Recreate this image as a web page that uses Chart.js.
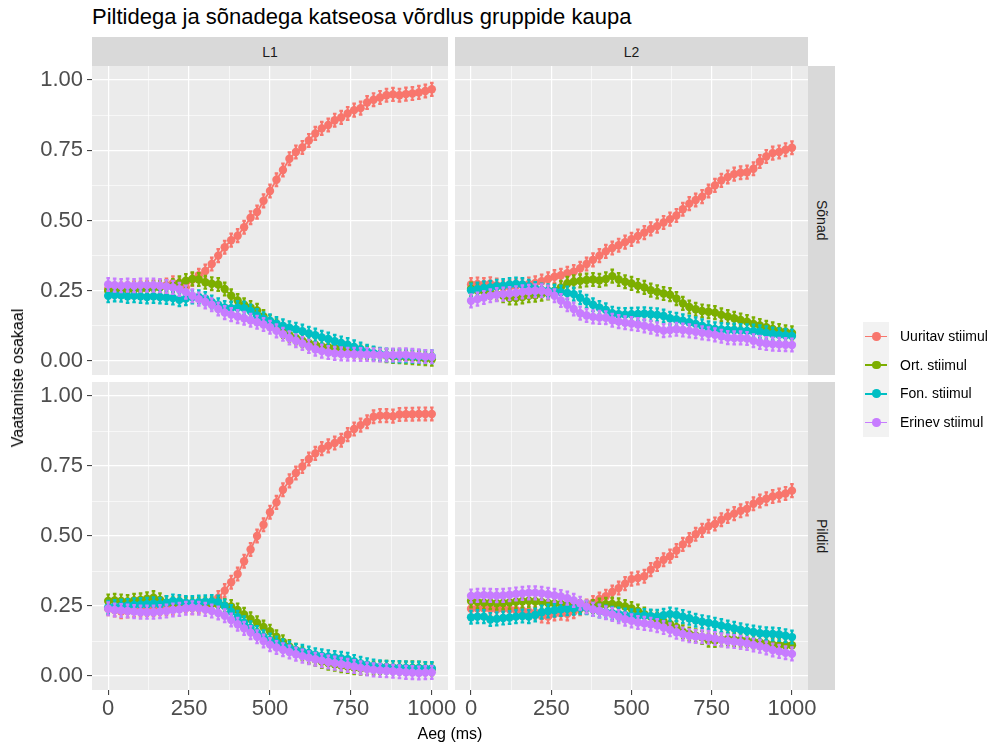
<!DOCTYPE html>
<html>
<head>
<meta charset="utf-8">
<script src="https://cdn.jsdelivr.net/npm/chart.js@4.4.1/dist/chart.umd.min.js"></script>
<style>
body { margin: 0; background: #fff; font-family: "Liberation Sans", Arial, sans-serif; }
#wrap { position: relative; width: 995px; height: 746px; overflow: hidden; }
#wrap canvas { position: absolute; left: 0; top: 0; }
.title { position: absolute; left: 92px; top: 6px; font-size: 22px; line-height: 22px; color: #000; white-space: nowrap; }
.strip { position: absolute; background: #D9D9D9; color: #1A1A1A; font-size: 14px;
  display: flex; align-items: center; justify-content: center; }
.strip.side span { writing-mode: vertical-rl; }
.ytitle { position: absolute; left: 18px; top: 378px; font-size: 16px; color: #000; white-space: nowrap;
  transform: translate(-50%, -50%) rotate(-90deg); }
.xtitle { position: absolute; left: 450px; top: 734px; font-size: 16px; color: #000; white-space: nowrap;
  transform: translate(-50%, -50%); }
.legend { position: absolute; left: 863px; top: 322px; }
.legend .row { position: relative; height: 28.7px; }
.legend .key { position: absolute; left: 0; top: 0; width: 26px; height: 28.7px; background: #F2F2F2; }
.legend .key i { position: absolute; left: 2px; right: 2px; top: 13.5px; height: 1.8px; }
.legend .key b { position: absolute; left: 9px; top: 10px; width: 8.5px; height: 8.5px; border-radius: 50%; }
.legend .lab { position: absolute; left: 37px; top: 0; line-height: 28.7px; font-size: 14px; color: #000; white-space: nowrap; }
</style>
</head>
<body>
<div id="wrap">
  <div class="title">Piltidega ja sõnadega katseosa võrdlus gruppide kaupa</div>
  <div class="strip" style="left:92px;top:37px;width:356px;height:29px">L1</div>
  <div class="strip" style="left:455px;top:37px;width:353px;height:29px">L2</div>
  <div class="strip side" style="left:808px;top:66px;width:27px;height:309px"><span>Sõnad</span></div>
  <div class="strip side" style="left:808px;top:382px;width:27px;height:308px"><span>Pildid</span></div>
  <canvas id="c1" width="995" height="746"></canvas>
  <canvas id="c2" width="995" height="746"></canvas>
  <canvas id="c3" width="995" height="746"></canvas>
  <canvas id="c4" width="995" height="746"></canvas>
  <div class="ytitle">Vaatamiste osakaal</div>
  <div class="xtitle">Aeg (ms)</div>
  <div class="legend" id="legend"></div>
</div>
<script>
const times = [0, 20, 40, 60, 80, 100, 120, 140, 160, 180, 200, 220, 240, 260, 280, 300, 320, 340, 360, 380,
  400, 420, 440, 460, 480, 500, 520, 540, 560, 580, 600, 620, 640, 660, 680, 700, 720, 740, 760, 780,
  800, 820, 840, 860, 880, 900, 920, 940, 960, 980, 1000];

const seriesNames = ['Uuritav stiimul', 'Ort. stiimul', 'Fon. stiimul', 'Erinev stiimul'];
const seriesColors = ['#F8766D', '#7CAE00', '#00BFC4', '#C77CFF'];

const xMajor = [0, 250, 500, 750, 1000];
const xMinor = [125, 375, 625, 875];
const yMajor = [0, 0.25, 0.5, 0.75, 1];
const yMinor = [0.125, 0.375, 0.625, 0.875];

// poolne veapiir (ligikaudu)
const se = 0.023;

// L1, Sõnad
const l1SonadUuritav = [0.256, 0.255, 0.256, 0.258, 0.26, 0.26, 0.262, 0.264, 0.266, 0.27, 0.278, 0.27, 0.262, 0.29, 0.305, 0.32, 0.345, 0.375, 0.405, 0.43, 0.446, 0.476, 0.51, 0.53, 0.57, 0.605, 0.645, 0.68, 0.72, 0.744, 0.76, 0.785, 0.81, 0.828, 0.84, 0.857, 0.867, 0.881, 0.893, 0.9, 0.92, 0.93, 0.938, 0.946, 0.949, 0.946, 0.95, 0.952, 0.956, 0.961, 0.967];
const l1SonadOrt = [0.25, 0.25, 0.252, 0.254, 0.255, 0.256, 0.258, 0.26, 0.262, 0.265, 0.268, 0.278, 0.286, 0.292, 0.29, 0.28, 0.275, 0.272, 0.256, 0.232, 0.215, 0.2, 0.19, 0.18, 0.158, 0.14, 0.125, 0.105, 0.092, 0.082, 0.072, 0.064, 0.058, 0.052, 0.049, 0.046, 0.044, 0.042, 0.036, 0.032, 0.029, 0.026, 0.022, 0.019, 0.016, 0.015, 0.013, 0.012, 0.01, 0.008, 0.006];
const l1SonadFon = [0.232, 0.235, 0.234, 0.23, 0.232, 0.23, 0.228, 0.23, 0.228, 0.226, 0.224, 0.218, 0.222, 0.228, 0.228, 0.222, 0.21, 0.2, 0.19, 0.188, 0.19, 0.188, 0.178, 0.162, 0.15, 0.143, 0.133, 0.125, 0.118, 0.113, 0.106, 0.098, 0.092, 0.084, 0.078, 0.07, 0.064, 0.058, 0.05, 0.042, 0.034, 0.028, 0.024, 0.021, 0.019, 0.018, 0.018, 0.017, 0.016, 0.015, 0.015];
const l1SonadErinev = [0.272, 0.27, 0.268, 0.27, 0.268, 0.27, 0.27, 0.27, 0.268, 0.265, 0.262, 0.255, 0.245, 0.232, 0.22, 0.21, 0.2, 0.185, 0.172, 0.165, 0.158, 0.152, 0.145, 0.138, 0.13, 0.12, 0.107, 0.095, 0.082, 0.072, 0.062, 0.052, 0.042, 0.035, 0.03, 0.027, 0.025, 0.024, 0.024, 0.023, 0.023, 0.022, 0.021, 0.021, 0.021, 0.022, 0.022, 0.02, 0.018, 0.016, 0.015];

// L2, Sõnad
const l2SonadUuritav = [0.272, 0.274, 0.272, 0.275, 0.27, 0.262, 0.265, 0.268, 0.27, 0.274, 0.278, 0.284, 0.292, 0.3, 0.305, 0.312, 0.318, 0.33, 0.345, 0.36, 0.375, 0.39, 0.402, 0.412, 0.423, 0.433, 0.445, 0.457, 0.47, 0.48, 0.493, 0.505, 0.518, 0.54, 0.56, 0.573, 0.585, 0.605, 0.625, 0.643, 0.655, 0.665, 0.67, 0.672, 0.684, 0.71, 0.728, 0.74, 0.744, 0.752, 0.759];
const l2SonadOrt = [0.256, 0.252, 0.248, 0.244, 0.238, 0.232, 0.224, 0.224, 0.228, 0.232, 0.234, 0.238, 0.242, 0.25, 0.262, 0.276, 0.282, 0.285, 0.288, 0.29, 0.287, 0.292, 0.302, 0.29, 0.282, 0.276, 0.268, 0.262, 0.252, 0.246, 0.24, 0.236, 0.222, 0.205, 0.192, 0.184, 0.178, 0.175, 0.172, 0.164, 0.158, 0.152, 0.146, 0.14, 0.132, 0.126, 0.12, 0.114, 0.108, 0.104, 0.1];
const l2SonadFon = [0.252, 0.256, 0.26, 0.262, 0.266, 0.268, 0.272, 0.274, 0.272, 0.266, 0.258, 0.252, 0.25, 0.248, 0.245, 0.242, 0.238, 0.225, 0.212, 0.2, 0.19, 0.182, 0.17, 0.166, 0.165, 0.166, 0.167, 0.168, 0.166, 0.164, 0.16, 0.152, 0.148, 0.143, 0.138, 0.132, 0.125, 0.118, 0.114, 0.112, 0.11, 0.11, 0.108, 0.107, 0.106, 0.104, 0.1, 0.096, 0.093, 0.091, 0.089];
const l2SonadErinev = [0.214, 0.22, 0.226, 0.232, 0.236, 0.238, 0.24, 0.243, 0.246, 0.248, 0.25, 0.25, 0.245, 0.232, 0.215, 0.2, 0.185, 0.17, 0.162, 0.157, 0.155, 0.154, 0.145, 0.14, 0.136, 0.133, 0.13, 0.125, 0.12, 0.114, 0.108, 0.11, 0.113, 0.11, 0.107, 0.104, 0.1, 0.097, 0.093, 0.088, 0.083, 0.082, 0.082, 0.08, 0.072, 0.066, 0.062, 0.06, 0.059, 0.058, 0.057];

// L1, Pildid
const l1PildidUuritav = [0.24, 0.236, 0.23, 0.232, 0.234, 0.236, 0.238, 0.238, 0.24, 0.24, 0.242, 0.262, 0.25, 0.244, 0.248, 0.25, 0.258, 0.28, 0.305, 0.335, 0.364, 0.41, 0.452, 0.5, 0.54, 0.585, 0.62, 0.665, 0.697, 0.725, 0.748, 0.775, 0.795, 0.812, 0.822, 0.832, 0.842, 0.862, 0.882, 0.896, 0.908, 0.926, 0.93, 0.93, 0.928, 0.934, 0.935, 0.935, 0.936, 0.936, 0.936];
const l1PildidOrt = [0.268, 0.27, 0.268, 0.266, 0.27, 0.272, 0.276, 0.28, 0.272, 0.262, 0.258, 0.256, 0.258, 0.256, 0.258, 0.258, 0.258, 0.256, 0.252, 0.248, 0.236, 0.22, 0.204, 0.19, 0.175, 0.16, 0.14, 0.122, 0.105, 0.092, 0.08, 0.068, 0.06, 0.052, 0.046, 0.042, 0.037, 0.034, 0.03, 0.028, 0.027, 0.028, 0.03, 0.031, 0.03, 0.029, 0.028, 0.029, 0.028, 0.026, 0.025];
const l1PildidFon = [0.245, 0.248, 0.25, 0.252, 0.254, 0.255, 0.256, 0.258, 0.256, 0.262, 0.268, 0.266, 0.262, 0.262, 0.264, 0.265, 0.266, 0.264, 0.25, 0.23, 0.21, 0.19, 0.172, 0.155, 0.14, 0.128, 0.118, 0.108, 0.1, 0.092, 0.088, 0.082, 0.076, 0.072, 0.069, 0.066, 0.063, 0.06, 0.052, 0.045, 0.04, 0.036, 0.033, 0.031, 0.03, 0.03, 0.029, 0.028, 0.028, 0.027, 0.027];
const l1PildidErinev = [0.24, 0.236, 0.234, 0.232, 0.23, 0.228, 0.228, 0.228, 0.23, 0.232, 0.236, 0.238, 0.242, 0.244, 0.242, 0.238, 0.232, 0.225, 0.215, 0.2, 0.185, 0.17, 0.155, 0.14, 0.125, 0.112, 0.102, 0.094, 0.086, 0.078, 0.071, 0.065, 0.06, 0.055, 0.05, 0.046, 0.042, 0.038, 0.034, 0.029, 0.025, 0.022, 0.02, 0.019, 0.017, 0.015, 0.013, 0.012, 0.011, 0.012, 0.013];

// L2, Pildid
const l2PildidUuritav = [0.24, 0.242, 0.242, 0.24, 0.238, 0.24, 0.238, 0.236, 0.233, 0.23, 0.226, 0.214, 0.212, 0.222, 0.224, 0.222, 0.23, 0.24, 0.25, 0.262, 0.275, 0.285, 0.3, 0.314, 0.33, 0.346, 0.35, 0.356, 0.38, 0.398, 0.415, 0.428, 0.448, 0.47, 0.487, 0.506, 0.52, 0.535, 0.543, 0.558, 0.57, 0.58, 0.59, 0.597, 0.615, 0.625, 0.633, 0.641, 0.646, 0.652, 0.662];
const l2PildidOrt = [0.268, 0.265, 0.262, 0.262, 0.26, 0.261, 0.263, 0.265, 0.267, 0.269, 0.267, 0.264, 0.261, 0.259, 0.257, 0.255, 0.252, 0.248, 0.245, 0.248, 0.253, 0.256, 0.257, 0.254, 0.248, 0.241, 0.232, 0.221, 0.212, 0.203, 0.195, 0.186, 0.174, 0.158, 0.15, 0.144, 0.138, 0.128, 0.127, 0.13, 0.132, 0.13, 0.128, 0.126, 0.122, 0.12, 0.116, 0.112, 0.11, 0.11, 0.11];
const l2PildidFon = [0.21, 0.212, 0.212, 0.202, 0.204, 0.207, 0.209, 0.212, 0.214, 0.212, 0.218, 0.228, 0.232, 0.235, 0.238, 0.24, 0.242, 0.244, 0.244, 0.238, 0.232, 0.228, 0.224, 0.221, 0.218, 0.215, 0.214, 0.216, 0.214, 0.213, 0.217, 0.221, 0.218, 0.212, 0.206, 0.199, 0.194, 0.19, 0.185, 0.18, 0.175, 0.17, 0.165, 0.161, 0.157, 0.153, 0.151, 0.15, 0.148, 0.144, 0.139];
const l2PildidErinev = [0.286, 0.288, 0.289, 0.288, 0.287, 0.288, 0.29, 0.293, 0.295, 0.297, 0.297, 0.295, 0.292, 0.288, 0.284, 0.278, 0.27, 0.26, 0.247, 0.238, 0.232, 0.226, 0.22, 0.212, 0.203, 0.197, 0.191, 0.188, 0.185, 0.18, 0.173, 0.165, 0.156, 0.15, 0.144, 0.141, 0.14, 0.138, 0.134, 0.129, 0.125, 0.123, 0.12, 0.116, 0.111, 0.106, 0.1, 0.093, 0.088, 0.083, 0.079];

// paneeli hall taust
const panelBg = {
  id: 'panelBg',
  beforeDraw(chart) {
    const a = chart.chartArea;
    chart.ctx.save();
    chart.ctx.fillStyle = '#EBEBEB';
    chart.ctx.fillRect(a.left, a.top, a.right - a.left, a.bottom - a.top);
    chart.ctx.restore();
  }
};

// veapiirid iga punkti juures
const errorBars = {
  id: 'errorBars',
  afterDatasetDraw(chart, args) {
    const ds = chart.data.datasets[args.index];
    const ys = chart.scales.y;
    const c = chart.ctx;
    c.save();
    c.strokeStyle = ds.borderColor;
    c.lineWidth = 2.2;
    args.meta.data.forEach((pt, i) => {
      const v = ds.data[i].y;
      const top = ys.getPixelForValue(v + se);
      const bot = ys.getPixelForValue(v - se);
      c.beginPath();
      c.moveTo(pt.x, top); c.lineTo(pt.x, bot);
      c.moveTo(pt.x - 1.8, top); c.lineTo(pt.x + 1.8, top);
      c.moveTo(pt.x - 1.8, bot); c.lineTo(pt.x + 1.8, bot);
      c.stroke();
    });
    c.restore();
  }
};

// size = telje laius/kõrgus pikslites (0 kui telge ei näidata)
function axisOpts(major, minor, min, max, size, fmt, isX) {
  const show = size > 0;
  return {
    type: 'linear',
    position: isX ? 'bottom' : 'left',
    min: min,
    max: max,
    afterBuildTicks: s => { s.ticks = major.concat(minor).sort((a, b) => a - b).map(v => ({ value: v })); },
    afterFit: s => { if (isX) s.height = size; else s.width = size; },
    border: { display: false },
    grid: {
      color: '#FFFFFF',
      lineWidth: ctx => major.includes(ctx.tick.value) ? 1.2 : 0.6,
      drawTicks: show,
      tickLength: 5,
      tickWidth: 1,
      tickColor: ctx => major.includes(ctx.tick.value) ? '#333333' : 'rgba(0,0,0,0)'
    },
    ticks: {
      display: show,
      autoSkip: false,
      maxRotation: 0,
      padding: isX ? 1 : 4,
      color: '#4D4D4D',
      font: { family: '"Liberation Sans", Arial, sans-serif', size: 22 },
      callback: v => major.includes(v) ? fmt(v) : ''
    }
  };
}

function makePanel(id, box, series, xSize, ySize) {
  const datasets = series.map((vals, k) => ({
    label: seriesNames[k],
    data: times.map((t, i) => ({ x: t, y: vals[i] })),
    borderColor: seriesColors[k],
    backgroundColor: seriesColors[k],
    borderWidth: 1.8,
    pointRadius: 4.2,
    pointBorderWidth: 0,
    order: 4 - k
  }));
  new Chart(document.getElementById(id), {
    type: 'line',
    data: { datasets: datasets },
    plugins: [panelBg, errorBars],
    options: {
      responsive: false,
      animation: false,
      devicePixelRatio: 1,
      layout: { padding: { left: box[0] - ySize, top: box[1], right: 995 - box[2], bottom: 746 - box[3] - xSize } },
      plugins: { legend: { display: false }, tooltip: { enabled: false } },
      scales: {
        x: axisOpts(xMajor, xMinor, -50, 1050, xSize, v => String(v), true),
        y: axisOpts(yMajor, yMinor, -0.05, 1.05, ySize, v => v.toFixed(2), false)
      }
    }
  });
}

makePanel('c1', [92, 66, 448, 375], [l1SonadUuritav, l1SonadOrt, l1SonadFon, l1SonadErinev], 0, 92);
makePanel('c2', [455, 66, 808, 375], [l2SonadUuritav, l2SonadOrt, l2SonadFon, l2SonadErinev], 0, 0);
makePanel('c3', [92, 382, 448, 690], [l1PildidUuritav, l1PildidOrt, l1PildidFon, l1PildidErinev], 36, 92);
makePanel('c4', [455, 382, 808, 690], [l2PildidUuritav, l2PildidOrt, l2PildidFon, l2PildidErinev], 36, 0);

// legend
const legend = document.getElementById('legend');
seriesNames.forEach((name, k) => {
  const row = document.createElement('div');
  row.className = 'row';
  row.innerHTML = '<div class="key"><i style="background:' + seriesColors[k] + '"></i><b style="background:' +
    seriesColors[k] + '"></b></div><div class="lab">' + name + '</div>';
  legend.appendChild(row);
});
</script>
</body>
</html>
